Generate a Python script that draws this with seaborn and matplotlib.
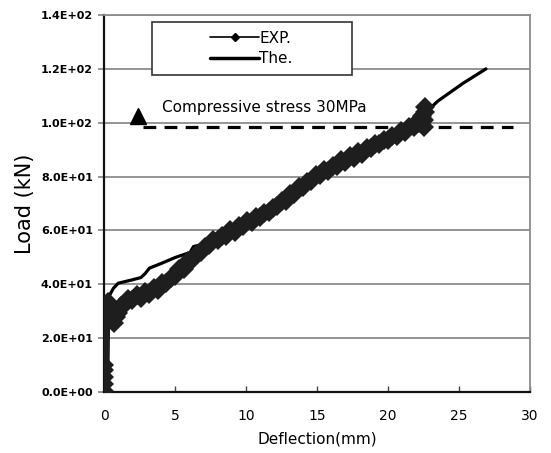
import matplotlib
matplotlib.use("Agg")
import matplotlib.pyplot as plt
import seaborn as sns
from matplotlib.lines import Line2D
from matplotlib.patches import Rectangle

sns.set_theme(style="white")
plt.rcParams['font.family'] = ['DejaVu Sans']
plt.rcParams['text.color'] = 'black'
plt.rcParams['axes.labelcolor'] = 'black'
plt.rcParams['xtick.color'] = 'black'
plt.rcParams['ytick.color'] = 'black'

# ---- data ----
exp_x = [0.0, 0.0, 0.0, 0.0, 0.0, 0.05, 0.1, 0.2, 0.3, 0.4, 0.5, 0.6, 0.7, 0.85, 1.0, 1.2, 1.45,
         1.7, 2.0, 2.3, 2.6, 2.9, 3.2, 3.5, 3.8, 4.1, 4.4, 4.7, 5.0, 5.3, 5.6, 5.9, 6.2, 6.5,
         6.8, 7.1, 7.4, 7.7, 8.0, 8.3, 8.6, 8.9, 9.2, 9.5, 9.8, 10.1, 10.4, 10.7, 11.0, 11.3,
         11.6, 11.9, 12.2, 12.5, 12.8, 13.1, 13.4, 13.7, 14.0, 14.3, 14.6, 14.9, 15.2, 15.5,
         15.8, 16.1, 16.4, 16.7, 17.0, 17.3, 17.6, 17.9, 18.2, 18.5, 18.8, 19.1, 19.4, 19.7,
         20.0, 20.3, 20.6, 20.9, 21.2, 21.5, 21.8, 22.0, 22.2, 22.4, 22.5, 22.6, 22.5, 22.6]
exp_y = [0.5, 3.0, 5.5, 8.0, 10.0, 28.0, 30.5, 31.5, 33.5, 31.5, 30.0, 27.0, 25.5, 28.0, 29.5,
         32.0, 32.5, 34.5, 34.0, 36.0, 35.0, 37.0, 36.5, 38.5, 38.0, 40.5, 40.5, 42.5, 43.0,
         45.5, 45.5, 48.5, 49.0, 51.0, 52.0, 54.0, 54.5, 56.5, 56.5, 58.0, 58.0, 60.0, 59.5,
         61.5, 61.5, 63.5, 63.0, 65.0, 65.0, 66.5, 67.0, 68.5, 69.0, 71.0, 71.0, 73.5, 73.5,
         76.0, 76.0, 78.0, 78.5, 80.5, 80.5, 82.5, 82.0, 84.0, 84.0, 86.0, 85.5, 87.5, 87.0,
         89.0, 88.5, 90.5, 90.5, 92.0, 92.0, 93.5, 93.5, 95.0, 95.0, 97.0, 96.5, 98.5, 98.5,
         100.0, 100.0, 102.5, 101.0, 104.0, 98.5, 106.0]

the_x = [0.25, 0.25, 0.3, 0.4, 0.66, 1.0, 1.95, 2.6, 2.9, 3.2, 4.06, 4.9, 5.2, 6.06, 6.3, 7.0,
         7.7, 10.0, 12.4, 14.7, 17.1, 19.4, 21.3, 22.5, 23.5, 25.3, 26.9]
the_y = [0.0, 18.0, 30.0, 36.0, 38.5, 40.4, 41.6, 42.5, 44.0, 46.0, 47.8, 49.7, 50.3, 51.8,
         54.0, 54.9, 56.5, 63.5, 70.0, 79.0, 86.0, 92.0, 97.5, 103.0, 108.0, 114.7, 120.0]

ref_x = [2.75, 28.8]
ref_y = [98.5, 98.5]
tri_x = [2.4]
tri_y = [102.5]

x_ticks = [0, 5, 10, 15, 20, 25, 30]
y_ticks = [0, 20, 40, 60, 80, 100, 120, 140]
y_ticklabels = ["0.0E+00", "2.0E+01", "4.0E+01", "6.0E+01", "8.0E+01", "1.0E+02", "1.2E+02", "1.4E+02"]

# ---- figure ----
fig = plt.figure(figsize=(5.51, 4.53), dpi=100)
ax = fig.add_axes([104/551, 1 - 392/453, 426/551, 377/453])
ax.set_facecolor("white")

grid_c = "#8c8c8c"
for yv in y_ticks[1:]:
    ax.axhline(yv, color=grid_c, lw=1.3, zorder=1)

sns.lineplot(x=the_x, y=the_y, estimator=None, sort=False, color="black", lw=2.3, ax=ax, zorder=3)
sns.lineplot(x=exp_x, y=exp_y, estimator=None, sort=False, color="#1e1e1e", lw=8,
             marker="D", markersize=10, markeredgewidth=0, ax=ax, zorder=4)

ax.plot(ref_x, ref_y, color="black", lw=2.3, dashes=(4, 2.6), zorder=2)
ax.plot(tri_x, tri_y, marker="^", color="black", markersize=11, ls="none", zorder=5)
ax.text(4.05, 105.5, "Compressive stress 30MPa", fontsize=11, va="center", ha="left", zorder=5)

ax.set_xlim(0, 30)
ax.set_ylim(0, 140)
ax.set_xticks(x_ticks)
ax.set_xticklabels([str(t) for t in x_ticks], fontsize=10)
ax.set_yticks(y_ticks)
ax.set_yticklabels(y_ticklabels, fontsize=8, fontweight="bold")
ax.tick_params(axis="x", direction="in", length=4, width=1, color="#444444", labelcolor="black", pad=12)
ax.tick_params(axis="y", direction="out", length=4, width=1.3, color=grid_c, labelcolor="black", pad=4)
ax.xaxis.set_ticks_position("bottom")
ax.yaxis.set_ticks_position("left")

for s in ["left", "bottom"]:
    ax.spines[s].set_color("#111111")
    ax.spines[s].set_linewidth(1.6)
for s in ["right", "top"]:
    ax.spines[s].set_color(grid_c)
    ax.spines[s].set_linewidth(1.3)
    ax.spines[s].set_visible(True)

ax.set_xlabel("Deflection(mm)", fontsize=11, labelpad=6, color="black")
ax.set_ylabel("Load (kN)", fontsize=15, labelpad=4, color="black")

# legend box
rect = Rectangle((0.112, 0.841), 0.469, 0.141, transform=ax.transAxes, facecolor="white",
                 edgecolor="#333333", lw=1.2, zorder=6)
ax.add_patch(rect)
handles = [Line2D([], [], color="black", lw=1.2, marker="D", markersize=4.5),
           Line2D([], [], color="black", lw=2.5)]
leg = ax.legend(handles, ["EXP.", "The."], loc="center", bbox_to_anchor=(0.3465, 0.9115),
                frameon=False, fontsize=11, handlelength=3.2, handletextpad=0.0,
                labelspacing=0.35, borderpad=0)
for t in leg.get_texts():
    t.set_color("black")
leg.set_zorder(7)

fig.savefig("out.png", dpi=100)
